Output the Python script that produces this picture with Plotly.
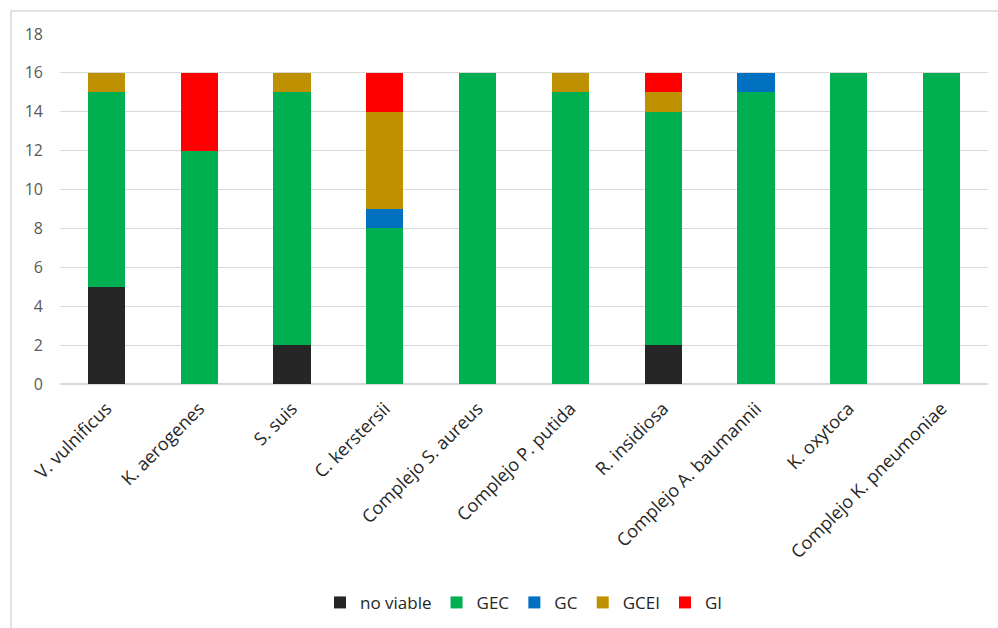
import plotly.graph_objects as go

categories = [
    "V. vulnificus", "K. aerogenes", "S. suis", "C. kerstersii",
    "Complejo S. aureus", "Complejo P. putida", "R. insidiosa",
    "Complejo A. baumannii", "K. oxytoca", "Complejo K. pneumoniae",
]
no_viable = [5, 0, 2, 0, 0, 0, 2, 0, 0, 0]
gec = [10, 12, 13, 8, 16, 15, 12, 15, 16, 16]
gc = [0, 0, 0, 1, 0, 0, 0, 1, 0, 0]
gcei = [1, 0, 1, 5, 0, 1, 1, 0, 0, 0]
gi = [0, 4, 0, 2, 0, 0, 1, 0, 0, 0]
y_ticks = [0, 2, 4, 6, 8, 10, 12, 14, 16, 18]

series = [
    ("no viable", no_viable, "#262626"),
    ("GEC", gec, "#00B050"),
    ("GC", gc, "#0070C0"),
    ("GCEI", gcei, "#BF9000"),
    ("GI", gi, "#FF0000"),
]

fig = go.Figure()
for name, vals, color in series:
    fig.add_trace(go.Bar(
        x=categories, y=vals, name=name,
        marker=dict(color=color, line=dict(width=0)),
    ))

font_family = "Open Sans, Liberation Sans, sans-serif"
fig.update_layout(
    barmode="stack",
    bargap=0.6,
    width=998, height=628,
    margin=dict(l=60, r=10, t=34, b=244, autoexpand=False),
    paper_bgcolor="white",
    plot_bgcolor="white",
    font=dict(family=font_family, size=16, color="#595959"),
    showlegend=True,
    legend=dict(
        orientation="h", x=0.5, xanchor="center",
        yref="container", y=0.04, yanchor="middle",
        font=dict(size=17, color="#262626"), traceorder="normal",
        itemwidth=30,
    ),
    xaxis=dict(
        tickangle=-45, showgrid=False, showline=True, linecolor="#D9D9D9",
        linewidth=1, ticks="", ticklabelstandoff=6, automargin=False,
        tickfont=dict(size=18, color="#262626"),
    ),
    yaxis=dict(
        range=[0, 18], tickvals=y_ticks, showgrid=True, gridcolor="#D9D9D9",
        gridwidth=1, zeroline=True, zerolinecolor="#D9D9D9", showline=False,
        ticks="", ticklabelstandoff=16, automargin=False,
        tickfont=dict(size=16, color="#595959"),
    ),
    shapes=[dict(
        type="rect", xref="paper", yref="paper",
        x0=-0.0528, x1=1.03, y0=-0.75, y1=1.0657,
        line=dict(color="#D9D9D9", width=1.5), fillcolor="rgba(0,0,0,0)",
        layer="below",
    )],
)

fig.write_html("out.html")
